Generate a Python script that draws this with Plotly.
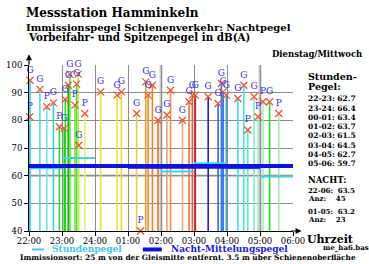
import plotly.graph_objects as go

# ---- data ----
hour_labels = ["22:00", "23:00", "24:00", "01:00", "02:00", "03:00", "04:00", "05:00", "06:00"]
hour_pos = list(range(len(hour_labels)))  # hours since 22:00

# events: time (hours since 22:00), peak level dB(A), label
ev_time = [0.03, 0.02, 0.33, 0.54, 0.74, 0.92, 1.07, 1.10, 1.19, 1.24,
           1.39, 1.44, 1.49, 1.51, 1.69, 2.17, 2.67, 2.80, 3.26, 3.38,
           3.54, 3.61, 3.74, 3.91, 4.18, 4.29, 4.65, 4.85, 4.95, 5.04,
           5.43, 5.73, 5.83, 5.88, 5.98, 6.33, 6.51, 6.63, 6.82, 6.94,
           7.09, 7.29, 7.57]
ev_level = [94.5, 81.3, 91.2, 84.9, 86.3, 77.7, 77.1, 87.5, 92.7, 96.7,
            85.5, 93.1, 96.7, 71.0, 82.5, 90.3, 89.1, 90.3, 82.5, 40.0,
            93.9, 89.1, 92.7, 80.0, 81.9, 90.9, 80.0, 86.7, 89.1, 89.1,
            88.5, 86.1, 93.3, 90.3, 89.1, 87.9, 92.7, 76.5, 88.5, 81.3,
            86.7, 86.7, 82.5]
ev_label = ["G", "P", "G", "P", "G", "P", "G", "G", "G", "G",
            "P", "G", "G", "G", "P", "G", "G", "G", "G", "P",
            "G", "G", "G", "G", "G", "G", "G", "G", "G", "G",
            "G", "G", "G", "G", "G", "G", "G", "P", "G", "P",
            "P", "G", "P"]

# hourly levels
stunden_labels = ["22-23", "23-24", "00-01", "01-02", "02-03", "03-04", "04-05", "05-06"]
stunden_values = [62.7, 66.4, 63.4, 63.7, 61.5, 64.5, 62.7, 59.7]

nacht_22_06 = 63.5
anz_22_06 = 45
nacht_01_05 = 63.2
anz_01_05 = 23

# ---- styles ----
ev_colors = ["#40c0f0", "#40c8f0", "#50d8f0", "#70e4f0", "#30d0d8",
             "#30d830", "#00d000", "#20e020", "#00c000", "#60e030",
             "#90e040", "#40e040", "#b0f040", "#c8f060", "#e0f070",
             "#f0e020", "#f0e040", "#f0d820", "#f0c840", "#f0b878",
             "#f0a030", "#f09020", "#f08020", "#f07010", "#f0a070",
             "#f09050", "#f0a888", "#f07040", "#f06030", "#e01010",
             "#2020e0", "#4060e0", "#2080f0", "#2060f0", "#40a0f0",
             "#40e0f0", "#40e8e8", "#60e8d0", "#80f0d0", "#a0f0c0",
             "#a0f0c0", "#20e020", "#a0f0a0"]

SERIF = "DejaVu Serif"
W, H = 369, 264
L, R = 29.0, 293.4      # pixel x of 22:00 and 06:00
T, B = 64.7, 231.0      # pixel y of 100 and 40


def px(x):
    return (x - L) / (R - L)


def py(y):
    return (B - y) / (B - T)


fig = go.Figure()

# background reference lines
fig.add_shape(type="line", xref="x", yref="y", x0=0, x1=8, y0=60, y1=60,
              line=dict(color="#c8c8c8", width=2.5), layer="below")
for hx in [4, 7]:
    fig.add_shape(type="line", xref="x", yref="y", x0=hx, x1=hx, y0=40, y1=100,
                  line=dict(color="#c8c8c8", width=3), layer="below")

# event vertical lines
for t, lv, c in zip(ev_time, ev_level, ev_colors):
    fig.add_trace(go.Scatter(x=[t, t], y=[40, lv], mode="lines",
                             line=dict(color=c, width=1.6),
                             showlegend=False, hoverinfo="skip"))

# hourly levels
for i, v in enumerate(stunden_values):
    fig.add_trace(go.Scatter(x=[hour_pos[i], hour_pos[i + 1]], y=[v, v], mode="lines",
                             line=dict(color="#40d0e8", width=2),
                             showlegend=False, hoverinfo="skip"))

# night averages
fig.add_trace(go.Scatter(x=[0, 8], y=[nacht_22_06, nacht_22_06], mode="lines",
                         line=dict(color="#1010e0", width=4),
                         showlegend=False, hoverinfo="skip"))
fig.add_trace(go.Scatter(x=[3, 7], y=[nacht_01_05, nacht_01_05], mode="lines",
                         line=dict(color="#1010e0", width=4),
                         showlegend=False, hoverinfo="skip"))

# peak markers with labels
fig.add_trace(go.Scatter(x=ev_time, y=ev_level, mode="markers+text",
                         marker=dict(symbol="x-thin", size=7,
                                     line=dict(color="#e85838", width=1.3)),
                         text=ev_label, textposition="top center",
                         textfont=dict(family=SERIF, size=9, color="#3030e0"),
                         showlegend=False, hoverinfo="skip", cliponaxis=False))

ann = []


def add_text(x, y, text, size, color="black", xanchor="left", bold=True):
    ann.append(dict(xref="paper", yref="paper", x=px(x), y=py(y),
                    text=("<b>%s</b>" % text) if bold else text,
                    showarrow=False, xanchor=xanchor, yanchor="middle",
                    borderpad=0,
                    font=dict(family=SERIF, size=size, color=color)))


# titles
add_text(25, 13, "Messstation Hamminkeln", 12)
add_text(25, 27, "Immissionspegel Schienenverkehr: Nachtpegel", 10)
add_text(27, 36.5, "Vorbeifahr- und Spitzenpegel in dB(A)", 10.3)
add_text(364, 54, "Dienstag/Mittwoch", 8.5, xanchor="right")

# right panel
add_text(307, 76, "Stunden-", 9.5)
add_text(307, 86, "Pegel:", 9.5)
for i, (lab, v) in enumerate(zip(stunden_labels, stunden_values)):
    add_text(307, 98.5 + 9.3 * i, "%s: %.1f" % (lab, v), 7.5)
add_text(307, 180, "NACHT:", 8.5)
add_text(307, 190, "22-06:  %.1f" % nacht_22_06, 7)
add_text(307, 198, "Anz:    %d" % anz_22_06, 7)
add_text(307, 211.5, "01-05:  %.1f" % nacht_01_05, 7)
add_text(307, 219.5, "Anz:    %d" % anz_01_05, 7)

add_text(306, 240, "Uhrzeit", 11)
add_text(322, 247.5, "me_ha6.bas", 7)

# legend
fig.add_shape(type="line", xref="paper", yref="paper", x0=px(32), x1=px(44),
              y0=py(249.5), y1=py(249.5), line=dict(color="#40d0e8", width=2))
add_text(51, 249.5, "Stundenpegel", 9, color="#40c8e8")
fig.add_shape(type="line", xref="paper", yref="paper", x0=px(143), x1=px(162),
              y0=py(249.5), y1=py(249.5), line=dict(color="#1010e0", width=4))
add_text(170, 249.5, "Nacht-Mittelungspegel", 9, color="#2020e0")
add_text(19, 258, "Immissionsort: 25 m von der Gleismitte entfernt. 3.5 m über Schienenoberfläche", 7.4)

# axis arrows
ann.append(dict(xref="paper", yref="paper", x=0, y=py(54), ax=0, ay=12,
                showarrow=True, arrowhead=2, arrowsize=1, arrowwidth=1.2,
                arrowcolor="black", text=""))
ann.append(dict(xref="paper", yref="paper", x=px(302), y=0, ax=-12, ay=0,
                showarrow=True, arrowhead=2, arrowsize=1, arrowwidth=1.2,
                arrowcolor="black", text=""))

fig.update_layout(
    width=W, height=H,
    margin=dict(l=L, r=W - R, t=T, b=H - B, autoexpand=False),
    paper_bgcolor="white", plot_bgcolor="white",
    annotations=ann,
    showlegend=False,
    xaxis=dict(range=[0, 8], tickvals=hour_pos, ticktext=hour_labels,
               showgrid=True, gridcolor="#8c8c8c", gridwidth=1,
               showline=True, linecolor="black", linewidth=1,
               ticks="outside", ticklen=4, tickcolor="black",
               ticklabelstandoff=-2,
               tickfont=dict(family=SERIF, size=8.5, color="black"),
               zeroline=False, fixedrange=True, automargin=False),
    yaxis=dict(range=[40, 100], tickvals=[40, 50, 60, 70, 80, 90, 100],
               showgrid=True, gridcolor="#8c8c8c", gridwidth=1,
               showline=True, linecolor="black", linewidth=1,
               ticks="outside", ticklen=4, tickcolor="black",
               tickfont=dict(family=SERIF, size=8.5, color="black"),
               zeroline=False, fixedrange=True, automargin=False),
)

fig.write_html("out.html", config={"displayModeBar": False},
               post_script="document.body.style.margin='0';document.body.style.overflow='hidden';")
